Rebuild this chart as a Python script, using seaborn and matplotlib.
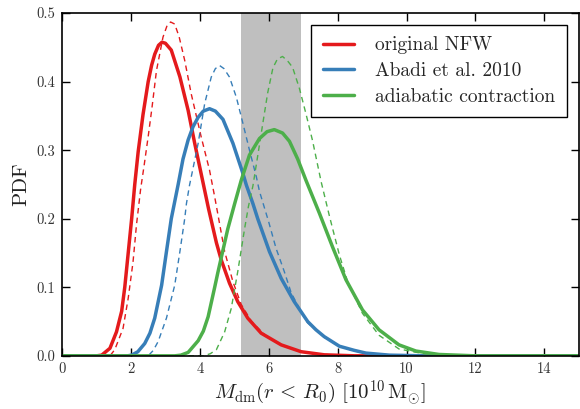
import matplotlib
matplotlib.use("Agg")
import matplotlib.pyplot as plt
import seaborn as sns

# ---- data ----
red_x = [0, 1.0, 1.15, 1.39, 1.58, 1.73, 1.82, 1.92, 2.02, 2.11, 2.21, 2.35, 2.50, 2.60, 2.69, 2.80, 2.90, 3.00, 3.17, 3.42, 3.66, 3.85, 4.04, 4.25, 4.48, 4.62, 4.86, 5.10, 5.39, 5.78, 6.36, 6.94, 7.61, 8.5, 15]
red_y = [0, 0, 0.001, 0.011, 0.035, 0.065, 0.100, 0.150, 0.200, 0.250, 0.298, 0.352, 0.400, 0.424, 0.440, 0.453, 0.4575, 0.456, 0.446, 0.407, 0.358, 0.310, 0.265, 0.215, 0.165, 0.140, 0.106, 0.079, 0.055, 0.033, 0.016, 0.006, 0.0015, 0.0, 0]

redd_x = [0, 1.39, 1.53, 1.77, 1.92, 2.06, 2.16, 2.28, 2.38, 2.50, 2.61, 2.74, 2.93, 3.05, 3.15, 3.27, 3.40, 3.56, 3.75, 4.04, 4.28, 4.43, 4.72, 4.96, 5.20, 5.50, 5.90, 6.40, 7.0, 8.0, 15]
redd_y = [0, 0, 0.009, 0.040, 0.084, 0.137, 0.191, 0.243, 0.277, 0.320, 0.362, 0.416, 0.465, 0.482, 0.487, 0.484, 0.465, 0.431, 0.382, 0.319, 0.271, 0.232, 0.152, 0.108, 0.075, 0.050, 0.030, 0.015, 0.005, 0.0005, 0]

blue_x = [0, 1.9, 2.02, 2.20, 2.40, 2.55, 2.69, 2.89, 3.03, 3.17, 3.37, 3.51, 3.66, 3.80, 3.95, 4.10, 4.28, 4.45, 4.67, 4.96, 5.25, 5.35, 5.54, 5.68, 6.02, 6.36, 6.74, 7.13, 7.37, 7.61, 8.05, 8.48, 8.82, 9.5, 10.5, 15]
blue_y = [0, 0, 0.001, 0.006, 0.018, 0.033, 0.055, 0.103, 0.152, 0.200, 0.250, 0.287, 0.315, 0.334, 0.348, 0.357, 0.3605, 0.357, 0.345, 0.310, 0.266, 0.249, 0.222, 0.200, 0.152, 0.113, 0.079, 0.050, 0.038, 0.028, 0.014, 0.008, 0.004, 0.001, 0.0, 0]

blued_x = [0, 2.50, 2.65, 2.79, 3.03, 3.27, 3.42, 3.56, 3.61, 3.70, 3.75, 3.95, 4.14, 4.33, 4.45, 4.57, 4.70, 4.86, 5.06, 5.25, 5.44, 5.64, 5.73, 5.85, 6.00, 6.21, 6.45, 6.65, 6.90, 7.13, 7.61, 8.05, 8.48, 9.0, 10.0, 15]
blued_y = [0, 0, 0.008, 0.021, 0.055, 0.103, 0.152, 0.200, 0.222, 0.249, 0.261, 0.310, 0.368, 0.4066, 0.419, 0.4236, 0.419, 0.4066, 0.377, 0.339, 0.300, 0.261, 0.240, 0.220, 0.195, 0.157, 0.123, 0.092, 0.068, 0.048, 0.027, 0.014, 0.007, 0.003, 0.0, 0]

green_x = [0, 3.27, 3.45, 3.66, 3.95, 4.10, 4.24, 4.43, 4.52, 4.81, 5.01, 5.20, 5.44, 5.73, 5.95, 6.16, 6.40, 6.60, 6.84, 7.08, 7.47, 7.85, 8.24, 8.72, 9.20, 9.78, 10.27, 10.94, 12.0, 15]
green_y = [0, 0, 0.001, 0.005, 0.022, 0.036, 0.057, 0.100, 0.121, 0.185, 0.222, 0.256, 0.293, 0.317, 0.327, 0.330, 0.325, 0.313, 0.287, 0.256, 0.208, 0.159, 0.111, 0.067, 0.038, 0.016, 0.007, 0.002, 0.0, 0]

greend_x = [0, 4.1, 4.30, 4.48, 4.72, 4.91, 5.10, 5.30, 5.41, 5.54, 5.68, 5.83, 5.97, 6.12, 6.25, 6.40, 6.55, 6.69, 6.89, 7.08, 7.27, 7.52, 7.76, 8.05, 8.29, 8.72, 9.20, 9.78, 10.5, 11.5, 15]
greend_y = [0, 0, 0.003, 0.009, 0.035, 0.069, 0.123, 0.186, 0.218, 0.248, 0.292, 0.340, 0.384, 0.420, 0.433, 0.4367, 0.430, 0.421, 0.390, 0.353, 0.314, 0.254, 0.204, 0.147, 0.108, 0.062, 0.030, 0.010, 0.003, 0.0, 0]

band = [5.19, 6.93]
labels = ["original NFW", "Abadi et al. 2010", "adiabatic contraction"]
colors = ["#e41a1c", "#377eb8", "#4daf4a"]
xticks = [0, 2, 4, 6, 8, 10, 12, 14]
yticks = [0.0, 0.1, 0.2, 0.3, 0.4, 0.5]

sns.set_style("ticks")
plt.rcParams["font.family"] = ["cmr10", "DejaVu Serif"]
plt.rcParams["mathtext.fontset"] = "cm"
plt.rcParams["axes.formatter.use_mathtext"] = True

fig = plt.figure(figsize=(5.8, 4.09), dpi=100)
ax = fig.add_axes([0.107, 0.130, 0.891, 0.838])

ax.axvspan(band[0], band[1], color="gray", alpha=0.5, lw=0, zorder=0)

solids = [(red_x, red_y), (blue_x, blue_y), (green_x, green_y)]
dashes = [(redd_x, redd_y), (blued_x, blued_y), (greend_x, greend_y)]
for (sx, sy), (dx, dy), c, lab in zip(solids, dashes, colors, labels):
    sns.lineplot(x=dx, y=dy, ax=ax, color=c, lw=1.0, linestyle="--", dashes=False)
    ax.lines[-1].set_dashes([4, 3])
    sns.lineplot(x=sx, y=sy, ax=ax, color=c, lw=2.5, label=lab)
    ax.lines[-1].set_solid_joinstyle("round")

ax.set_xlim(0, 15)
ax.set_ylim(0, 0.5)
ax.set_xticks(xticks)
ax.set_yticks(yticks)
ax.set_xticklabels([str(t) for t in xticks])
ax.set_yticklabels([f"{t:.1f}" for t in yticks])
ax.tick_params(direction="in", top=True, right=True, length=6, width=1, labelsize=10.5,
               colors="black", labelcolor="#333333", pad=5)
for s in ax.spines.values():
    s.set_linewidth(1.2)
    s.set_color("black")

ax.set_xlabel(r"$M_{\mathrm{dm}}(r\,<\,R_0)\ [10^{10}\,\mathrm{M}_{\odot}]$", fontsize=15,
              color="#222222", labelpad=1)
ax.set_ylabel("PDF", fontsize=15, color="#222222")

leg = ax.legend(loc="upper right", fontsize=14, frameon=True, fancybox=False,
                edgecolor="black", handlelength=1.6, borderpad=0.6, labelspacing=0.4,
                handletextpad=1.1, borderaxespad=0.6)
leg.get_frame().set_linewidth(1.0)
leg.get_frame().set_alpha(1)

fig.savefig("out.png", dpi=100)
